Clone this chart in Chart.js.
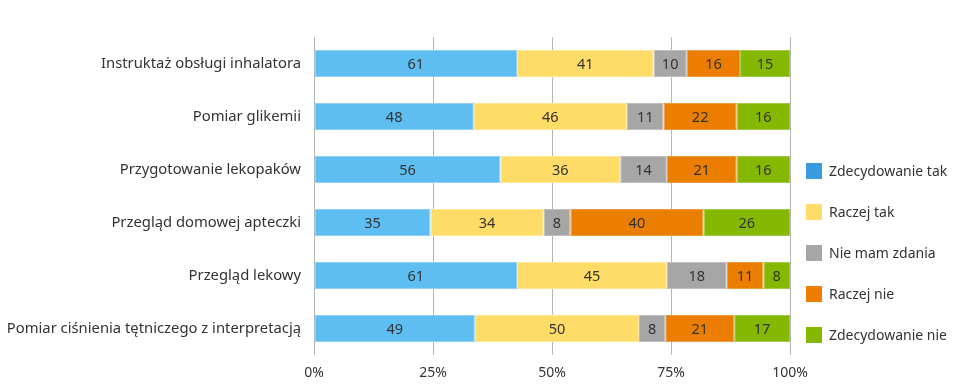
<!DOCTYPE html>
<html lang="pl">
<head>
    <meta charset="UTF-8">
    <title>Ocena usług</title>
    <script src="https://cdn.jsdelivr.net/npm/chart.js"></script>
    <style>
        body { margin: 0; background: #fff; font-family: 'Noto Sans', sans-serif; }
        .wrap { position: relative; width: 960px; height: 391px; }
        .legend { position: absolute; left: 806px; top: 0; }
        .legend .item { position: absolute; left: 0; white-space: nowrap; font-size: 14px; color: #333; height: 18px; line-height: 18px; }
        .legend .box { display: inline-block; width: 16px; height: 16px; vertical-align: -3px; margin-right: 7px; }
    </style>
</head>
<body>
    <div class="wrap">
        <canvas id="chart" width="960" height="391"></canvas>
        <div class="legend" id="legend"></div>
    </div>

    <script>
        // Data
        const categories = [
            'Instruktaż obsługi inhalatora',
            'Pomiar glikemii',
            'Przygotowanie lekopaków',
            'Przegląd domowej apteczki',
            'Przegląd lekowy',
            'Pomiar ciśnienia tętniczego z interpretacją'
        ];
        const seriesNames = ['Zdecydowanie tak', 'Raczej tak', 'Nie mam zdania', 'Raczej nie', 'Zdecydowanie nie'];
        const zdecydowanieTak = [61, 48, 56, 35, 61, 49];
        const raczejTak = [41, 46, 36, 34, 45, 50];
        const nieMamZdania = [10, 11, 14, 8, 18, 8];
        const raczejNie = [16, 22, 21, 40, 11, 21];
        const zdecydowanieNie = [15, 16, 16, 26, 8, 17];
        const xTicks = [0, 25, 50, 75, 100];

        const barColors = ['#5ebdf1', '#fedc67', '#a6a6a6', '#eb7d01', '#85b801'];
        const legendColors = ['#3a9ce0', '#fedc67', '#a6a6a6', '#eb7d01', '#85b801'];
        const edgeColors = ['#8fd0f4', '#fee597', '#bdbdbd', '#f09a3a', '#a2c94a'];

        const raw = [zdecydowanieTak, raczejTak, nieMamZdania, raczejNie, zdecydowanieNie];
        const totals = categories.map((_, i) => raw.reduce((s, arr) => s + arr[i], 0));

        const datasets = raw.map((arr, k) => ({
            label: seriesNames[k],
            data: arr.map((v, i) => v / totals[i] * 100),
            counts: arr,
            backgroundColor: barColors[k],
            borderColor: edgeColors[k],
            borderWidth: 1,
            borderSkipped: false,
            categoryPercentage: 1,
            barPercentage: 0.51
        }));

        // value labels in the middle of each segment
        const valueLabels = {
            id: 'valueLabels',
            afterDatasetsDraw(chart) {
                const c = chart.ctx;
                c.save();
                c.font = '14.5px "Noto Sans"';
                c.fillStyle = '#333';
                c.textAlign = 'center';
                c.textBaseline = 'middle';
                chart.data.datasets.forEach((ds, di) => {
                    chart.getDatasetMeta(di).data.forEach((bar, i) => {
                        c.fillText(ds.counts[i], (bar.x + bar.base) / 2, bar.y + 1);
                    });
                });
                c.restore();
            }
        };

        const ctx = document.getElementById('chart').getContext('2d');
        new Chart(ctx, {
            type: 'bar',
            data: { labels: categories, datasets },
            options: {
                indexAxis: 'y',
                responsive: false,
                animation: false,
                layout: { padding: { top: 37, right: 170, left: 0, bottom: 0 } },
                plugins: { legend: { display: false }, tooltip: { enabled: false } },
                scales: {
                    x: {
                        stacked: true,
                        min: 0,
                        max: 100,
                        afterBuildTicks(scale) { scale.ticks = xTicks.map(v => ({ value: v })); },
                        afterFit(scale) { scale.height = 36; },
                        ticks: {
                            callback: v => v + '%',
                            color: '#333',
                            font: { family: 'Noto Sans', size: 14 },
                            padding: 10
                        },
                        grid: { color: '#b5b5b5', lineWidth: 1, drawTicks: false },
                        border: { display: false }
                    },
                    y: {
                        stacked: true,
                        afterFit(scale) { scale.width = 314; },
                        ticks: {
                            color: '#333',
                            font: { family: 'Noto Sans', size: 14.8 },
                            padding: 13
                        },
                        grid: { display: false, drawTicks: false },
                        border: { display: false }
                    }
                }
            },
            plugins: [valueLabels]
        });

        // legend
        const legendEl = document.getElementById('legend');
        const legendY = [162, 203, 244, 285, 326];
        seriesNames.forEach((name, k) => {
            const item = document.createElement('div');
            item.className = 'item';
            item.style.top = legendY[k] + 'px';
            item.innerHTML = '<span class="box" style="background:' + legendColors[k] + '"></span>' + name;
            legendEl.appendChild(item);
        });
    </script>
</body>
</html>
